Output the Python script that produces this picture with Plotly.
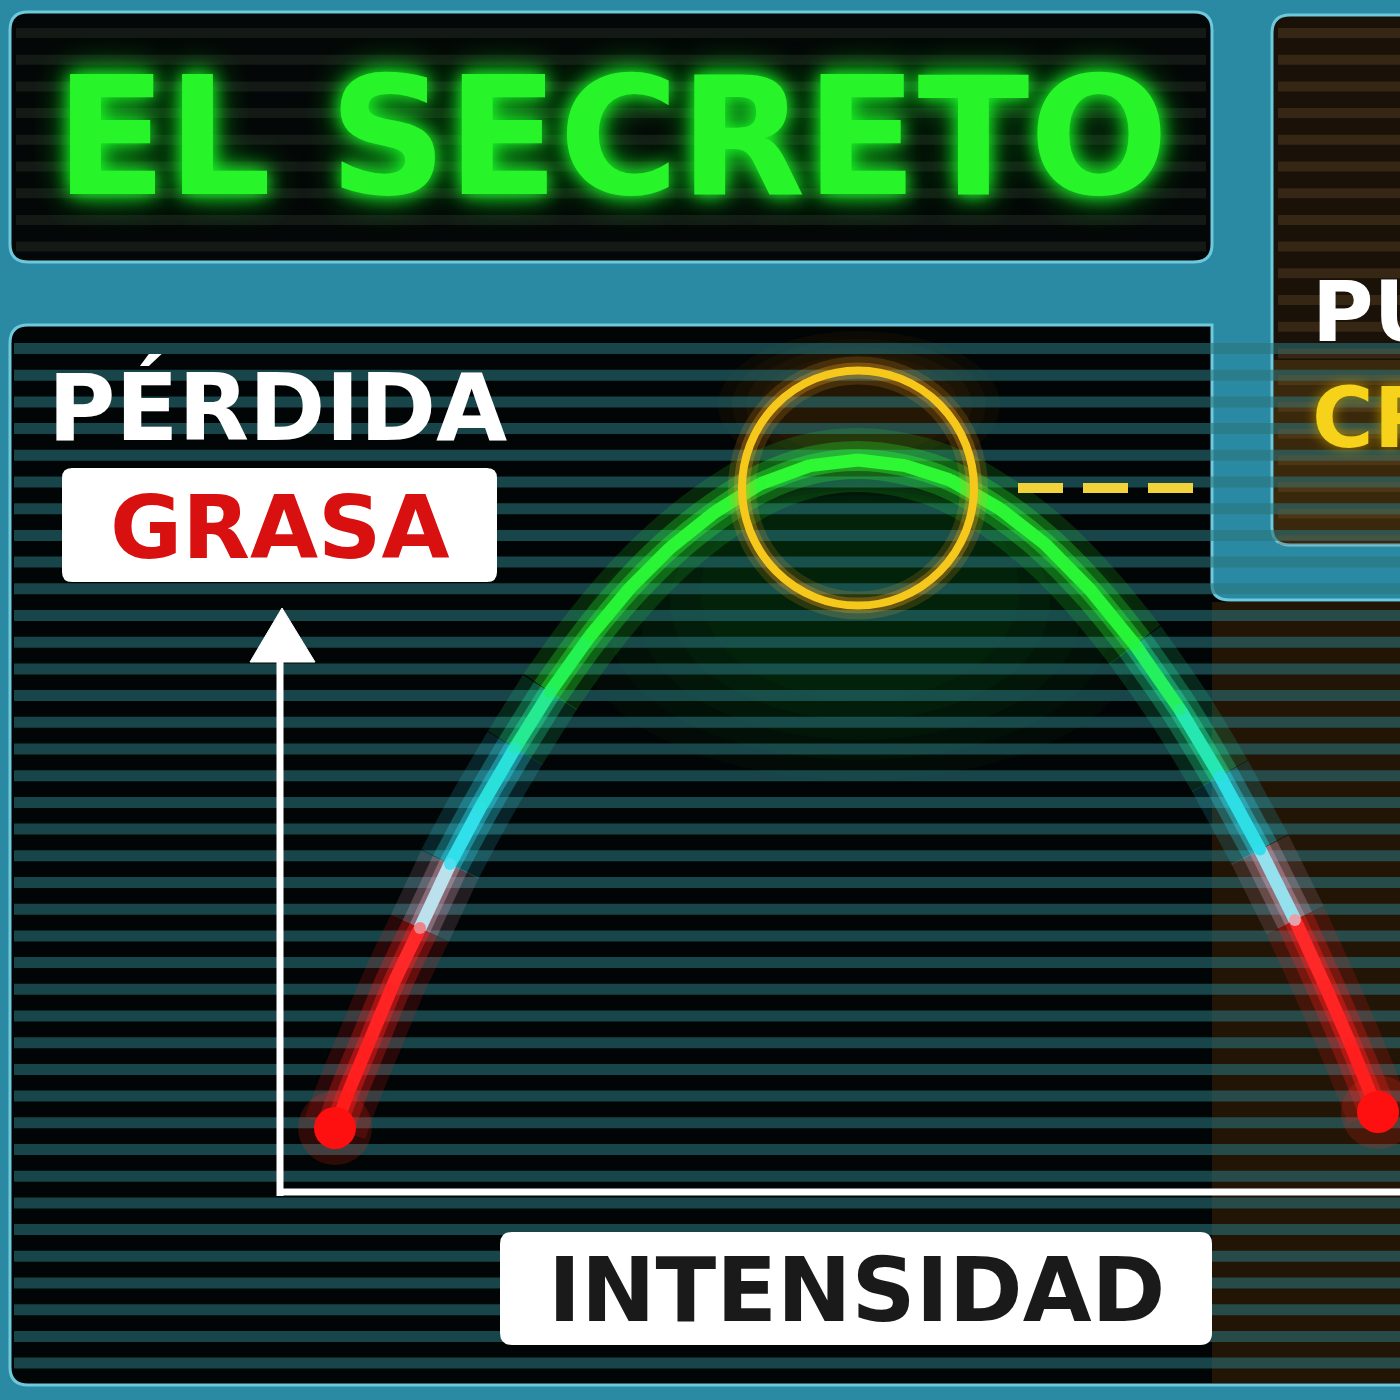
import plotly.graph_objects as go

# ---------------- data ----------------
# Intensity (x) vs fat loss (y) — inverted-U curve
intensity = [5.5, 7, 9, 11.5, 14, 17, 20, 23.5, 27, 31, 35, 39, 43.5, 48, 53, 57.8,
             62.5, 67, 72, 76.5, 81, 85.5, 90, 94, 98, 101.5, 104.5, 107, 109.8]
fat_loss = [8, 13, 19, 26.5, 33, 41, 48, 55.5, 62.5, 69.5, 75.5, 80.5, 85, 88.5, 90.8, 91.5,
            90.8, 89, 85.4, 81, 75.3, 68.4, 60.3, 52, 42.8, 34, 25.8, 18.6, 10]

title_text = "EL SECRETO"
y_label_top = "PÉRDIDA"
y_label_box = "GRASA"
x_label = "INTENSIDAD"
side_line1 = "PUNTO"
side_line2 = "CRÍTICO"

W = H = 1400
FONT = "DejaVu Sans, Verdana, sans-serif"


def px(x):
    return x / W


def py(y):
    return 1 - y / H


def rrect(x0, y0, x1, y1, r):
    pts = [
        f"M{px(x0 + r)},{py(y0)}",
        f"L{px(x1 - r)},{py(y0)}",
        f"Q{px(x1)},{py(y0)} {px(x1)},{py(y0 + r)}",
        f"L{px(x1)},{py(y1 - r)}",
        f"Q{px(x1)},{py(y1)} {px(x1 - r)},{py(y1)}",
        f"L{px(x0 + r)},{py(y1)}",
        f"Q{px(x0)},{py(y1)} {px(x0)},{py(y1 - r)}",
        f"L{px(x0)},{py(y0 + r)}",
        f"Q{px(x0)},{py(y0)} {px(x0 + r)},{py(y0)}",
        "Z",
    ]
    return " ".join(pts)


def lerp_color(c1, c2, t):
    return tuple(int(round(a + (b - a) * t)) for a, b in zip(c1, c2))


STOPS = [
    (0, (255, 20, 20)),
    (30, (255, 40, 40)),
    (36, (215, 225, 235)),
    (42, (50, 222, 240)),
    (53, (40, 225, 215)),
    (62, (35, 238, 110)),
    (70, (38, 244, 55)),
    (100, (50, 248, 50)),
]


def color_at(v):
    for (a, ca), (b, cb) in zip(STOPS[:-1], STOPS[1:]):
        if a <= v <= b:
            return lerp_color(ca, cb, (v - a) / (b - a))
    return STOPS[-1][1]


def bucket(v):
    for k, lim in enumerate([31, 39, 55, 66]):
        if v < lim:
            return k
    return 4


BUCKET_COL = [(255, 30, 30), (210, 160, 180), (45, 215, 235), (35, 230, 150), (40, 240, 50)]

shapes = []

# ---------------- panels ----------------
shapes.append(dict(type="path", path=rrect(10, 12, 1212, 262, 18), xref="paper", yref="paper",
                   fillcolor="#040707", line=dict(color="#6fc9dc", width=3), layer="below"))
shapes.append(dict(type="path", path=rrect(1272, 15, 1440, 545, 18), xref="paper", yref="paper",
                   fillcolor="#1a1108", line=dict(color="#6fc9dc", width=3), layer="below"))
main_path = (f"M{px(28)},{py(325)} L{px(1212)},{py(325)} L{px(1212)},{py(585)} "
             f"Q{px(1212)},{py(600)} {px(1230)},{py(600)} L{px(1440)},{py(600)} "
             f"L{px(1440)},{py(1385)} L{px(28)},{py(1385)} Q{px(10)},{py(1385)} {px(10)},{py(1367)} "
             f"L{px(10)},{py(343)} Q{px(10)},{py(325)} {px(28)},{py(325)} Z")
shapes.append(dict(type="path", path=main_path, xref="paper", yref="paper",
                   fillcolor="#020505", line=dict(color="#6fc9dc", width=3), layer="below"))
shapes.append(dict(type="rect", x0=px(1212), x1=1, y0=py(1383), y1=py(602), xref="paper", yref="paper",
                   fillcolor="rgba(110,60,10,0.30)", line=dict(width=0), layer="below"))
shapes.append(dict(type="rect", x0=px(1274), x1=1, y0=py(540), y1=py(360), xref="paper", yref="paper",
                   fillcolor="rgba(150,110,20,0.25)", line=dict(width=0), layer="below"))
# soft warm glow above the peak circle (layered to fade out)
for k in range(4):
    shapes.append(dict(type="circle", x0=px(760 - 14 * k), x1=px(958 + 14 * k),
                       y0=py(455 + 8 * k), y1=py(355 - 8 * k), xref="paper", yref="paper",
                       fillcolor="rgba(200,120,20,0.05)", line=dict(width=0), layer="below"))
# soft green haze under the top of the arch (layered to fade out)
for k in range(5):
    shapes.append(dict(type="circle", x0=px(700 - 30 * k), x1=px(1020 + 30 * k),
                       y0=py(700 + 20 * k), y1=py(480 + 5 * k), xref="paper", yref="paper",
                       fillcolor="rgba(30,200,60,0.035)", line=dict(width=0), layer="below"))

# scanlines
yy = 343.0
while yy < 1378:
    shapes.append(dict(type="rect", x0=px(14), x1=1, y0=py(yy + 11), y1=py(yy), xref="paper", yref="paper",
                       fillcolor="rgba(42,115,122,0.58)", line=dict(width=0), layer="below"))
    yy += 26.7
yy = 28.0
while yy < 252:
    shapes.append(dict(type="rect", x0=px(16), x1=px(1206), y0=py(yy + 10), y1=py(yy), xref="paper", yref="paper",
                       fillcolor="rgba(60,70,60,0.30)", line=dict(width=0), layer="below"))
    yy += 26.7
yy = 28.0
while yy < 538:
    shapes.append(dict(type="rect", x0=px(1278), x1=1, y0=py(yy + 10), y1=py(yy), xref="paper", yref="paper",
                       fillcolor="rgba(120,90,50,0.30)", line=dict(width=0), layer="below"))
    yy += 26.7

# ---------------- axes (white) ----------------
shapes.append(dict(type="line", x0=px(280), x1=px(280), y0=py(1196), y1=py(655), xref="paper", yref="paper",
                   line=dict(color="white", width=7)))
shapes.append(dict(type="line", x0=px(277), x1=1, y0=py(1192), y1=py(1192), xref="paper", yref="paper",
                   line=dict(color="white", width=7)))
shapes.append(dict(type="path",
                   path=f"M{px(250)},{py(662)} L{px(315)},{py(662)} L{px(282)},{py(608)} Z",
                   xref="paper", yref="paper", fillcolor="white", line=dict(color="white", width=1)))

# label boxes
shapes.append(dict(type="path", path=rrect(62, 468, 497, 582, 10), xref="paper", yref="paper",
                   fillcolor="white", line=dict(width=0)))
shapes.append(dict(type="path", path=rrect(500, 1232, 1212, 1345, 12), xref="paper", yref="paper",
                   fillcolor="white", line=dict(width=0)))

# ---------------- highlight circle at the peak ----------------
i_peak = fat_loss.index(max(fat_loss))
pk_x, pk_y = intensity[i_peak], fat_loss[i_peak]
cy = pk_y - 3.5
for w, op in [(28, 0.16), (16, 0.28)]:
    shapes.append(dict(type="circle", xref="x", yref="y", x0=pk_x - 11.6, x1=pk_x + 11.6,
                       y0=cy - 14.7, y1=cy + 14.7, line=dict(color=f"rgba(255,170,30,{op})", width=w)))
shapes.append(dict(type="circle", xref="x", yref="y", x0=pk_x - 11.6, x1=pk_x + 11.6,
                   y0=cy - 14.7, y1=cy + 14.7, line=dict(color="#f7c81c", width=8)))
shapes.append(dict(type="line", xref="x", yref="y", x0=pk_x + 16, x1=92, y0=cy, y1=cy,
                   line=dict(color="#f2d23a", width=10, dash="45px,20px")))

fig = go.Figure()

# ---------------- glow (color bands, one trace per band so no seams) ----------------
runs = []
start = 0
for i in range(1, len(intensity) - 1):
    b_prev = bucket((fat_loss[i - 1] + fat_loss[i]) / 2)
    b_next = bucket((fat_loss[i] + fat_loss[i + 1]) / 2)
    if b_prev != b_next:
        runs.append((start, i, b_prev))
        start = i
runs.append((start, len(intensity) - 1, bucket((fat_loss[-2] + fat_loss[-1]) / 2)))

for w, op in [(64, 0.15), (38, 0.28), (22, 0.42)]:
    for s, e, b in runs:
        c = BUCKET_COL[b]
        fig.add_trace(go.Scatter(
            x=intensity[s:e + 1], y=fat_loss[s:e + 1], mode="lines",
            line=dict(color=f"rgb({c[0]},{c[1]},{c[2]})", width=w, shape="spline"),
            opacity=op, hoverinfo="skip", showlegend=False))

# ---------------- core line with gradient ----------------
for i in range(len(intensity) - 1):
    c = color_at((fat_loss[i] + fat_loss[i + 1]) / 2)
    fig.add_trace(go.Scatter(
        x=intensity[i:i + 2], y=fat_loss[i:i + 2], mode="lines",
        line=dict(color=f"rgb({c[0]},{c[1]},{c[2]})", width=13),
        hoverinfo="skip", showlegend=False))
joint_cols = [f"rgb{color_at(v)}" for v in fat_loss[1:-1]]
fig.add_trace(go.Scatter(x=intensity[1:-1], y=fat_loss[1:-1], mode="markers",
                         marker=dict(size=12, color=joint_cols, line=dict(width=0)),
                         hoverinfo="skip", showlegend=False))

# end points
ends_x = [intensity[0], intensity[-1]]
ends_y = [fat_loss[0], fat_loss[-1]]
fig.add_trace(go.Scatter(x=ends_x, y=ends_y, mode="markers",
                         marker=dict(size=74, color="rgba(255,40,20,0.18)"), showlegend=False, hoverinfo="skip"))
fig.add_trace(go.Scatter(x=ends_x, y=ends_y, mode="markers",
                         marker=dict(size=42, color="#ff1010"), showlegend=False, hoverinfo="skip"))

# ---------------- text ----------------
annotations = [
    dict(text=f"<b>{title_text}</b>", x=px(612), y=py(138), xref="paper", yref="paper",
         showarrow=False, xanchor="center", yanchor="middle",
         font=dict(family=FONT, size=164, color="#27f52a", weight=900,
                   shadow="0px 0px 18px #1cff2a, 0px 0px 36px #0bbf18")),
    dict(text=f"<b>{y_label_top}</b>", x=px(46), y=py(408), xref="paper", yref="paper",
         showarrow=False, xanchor="left", yanchor="middle",
         font=dict(family=FONT, size=92, color="white", weight=900)),
    dict(text=f"<b>{y_label_box}</b>", x=px(280), y=py(527), xref="paper", yref="paper",
         showarrow=False, xanchor="center", yanchor="middle",
         font=dict(family=FONT, size=88, color="#d8100f", weight=900)),
    dict(text=f"<b>{x_label}</b>", x=px(856), y=py(1290), xref="paper", yref="paper",
         showarrow=False, xanchor="center", yanchor="middle",
         font=dict(family=FONT, size=89, color="#1a1a1a", weight=900)),
    dict(text=f"<b>{side_line1}</b>", x=px(1310), y=py(312), xref="paper", yref="paper",
         showarrow=False, xanchor="left", yanchor="middle",
         font=dict(family=FONT, size=84, color="white", weight=900)),
    dict(text=f"<b>{side_line2}</b>", x=px(1310), y=py(418), xref="paper", yref="paper",
         showarrow=False, xanchor="left", yanchor="middle",
         font=dict(family=FONT, size=84, color="#f7d21a", weight=900,
                   shadow="0px 0px 14px #b08a00")),
]

fig.update_layout(
    width=W, height=H,
    margin=dict(l=0, r=0, t=0, b=0),
    paper_bgcolor="#2b8aa3",
    plot_bgcolor="rgba(0,0,0,0)",
    xaxis=dict(range=[-28, 112], domain=[0, 1], visible=False, fixedrange=True),
    yaxis=dict(range=[-26, 149], domain=[0, 1], visible=False, fixedrange=True),
    shapes=shapes,
    annotations=annotations,
    showlegend=False,
)

fig.write_html("out.html", config={"displayModeBar": False},
               post_script="document.body.style.margin='0px';document.body.style.overflow='hidden';")
